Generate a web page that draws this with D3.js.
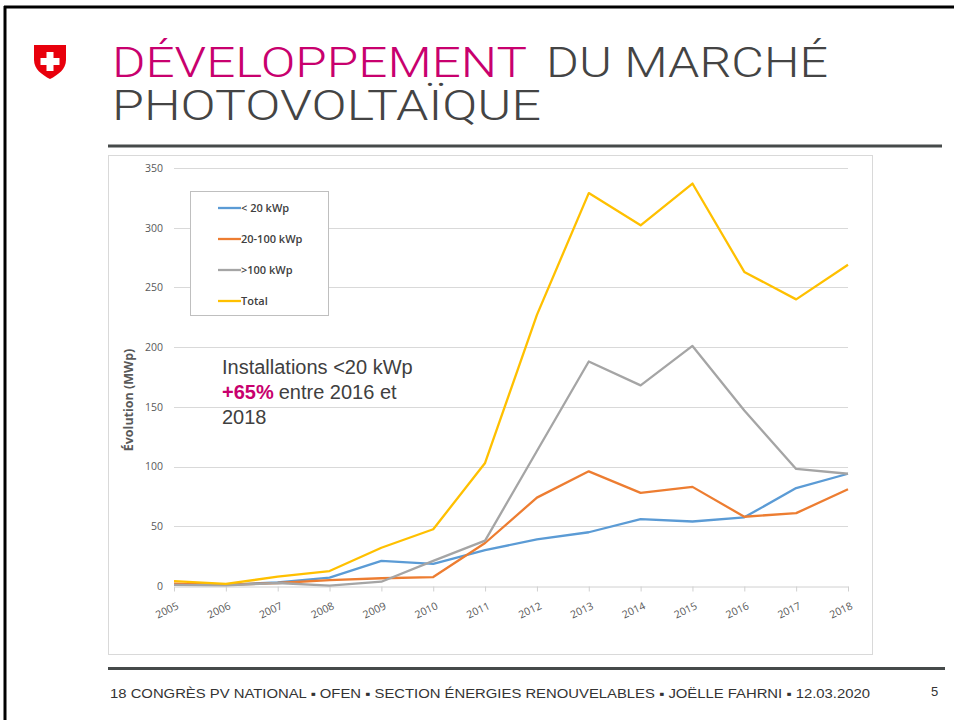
<!DOCTYPE html>
<html>
<head>
<meta charset="utf-8">
<script src="https://cdn.jsdelivr.net/npm/d3@7"></script>
<style>
  body { margin: 0; background: #fff; }
  svg { display: block; }
</style>
</head>
<body>
<svg id="slide" width="954" height="720"></svg>
<script>
// values
var years = ["2005","2006","2007","2008","2009","2010","2011","2012","2013","2014","2015","2016","2017","2018"];
var small = [1.5, 1, 3, 7, 21, 18.5, 30, 39, 45, 56, 54, 57.5, 82, 94];      // < 20 kWp
var medium = [2, 1, 2.5, 5, 6.5, 7.5, 36, 74, 96, 78, 83, 58, 61, 81];        // 20-100 kWp
var large = [1, 0.5, 2.5, 0.3, 3.6, 21, 38, 113, 188, 168, 201, 147, 98, 94]; // >100 kWp
var total = [4, 1.7, 7.8, 12.5, 32, 47.5, 103, 227, 329, 302, 337, 263, 240, 269];
var seriesNames = ["< 20 kWp", "20-100 kWp", ">100 kWp", "Total"];
var seriesColors = ["#5B9BD5", "#ED7D31", "#A5A5A5", "#FFC000"];
var yTicks = [0, 50, 100, 150, 200, 250, 300, 350];

var svg = d3.select("#slide");
var pink = "#C8006E";
var dark = "#444";

// page frame (black edge top + left)
svg.append("line").attr("x1", 4).attr("x2", 954).attr("y1", 7).attr("y2", 7)
  .attr("stroke", "#000").attr("stroke-width", 3);
svg.append("line").attr("x1", 5).attr("x2", 5).attr("y1", 6).attr("y2", 720)
  .attr("stroke", "#000").attr("stroke-width", 3);

// swiss shield
var logo = svg.append("g").attr("transform", "translate(34,45)");
logo.append("path")
  .attr("d", "M0,0 L32,0 L32,15 C32,24 24,30 16,34 C8,30 0,24 0,15 Z")
  .attr("fill", "#E8000C");
logo.append("rect").attr("x", 12.5).attr("y", 7).attr("width", 7).attr("height", 19).attr("fill", "#fff");
logo.append("rect").attr("x", 6.5).attr("y", 13).attr("width", 19).attr("height", 7).attr("fill", "#fff");

// title (one text, three runs)
var title = svg.append("text")
  .attr("font-family", "Roboto, 'Liberation Sans', sans-serif")
  .attr("font-size", 38).attr("font-weight", 300)
  .attr("transform", "translate(0,77) scale(1,1.1) translate(0,-77)");
title.append("tspan").attr("x", 112).attr("y", 77).attr("fill", pink)
  .attr("textLength", 415).attr("lengthAdjust", "spacingAndGlyphs").text("DÉVELOPPEMENT");
title.append("tspan").attr("x", 546).attr("y", 77).attr("fill", dark)
  .attr("textLength", 282).attr("lengthAdjust", "spacingAndGlyphs").text("DU MARCHÉ");
title.append("tspan").attr("x", 112).attr("y", 116).attr("fill", dark)
  .attr("textLength", 429).attr("lengthAdjust", "spacingAndGlyphs").text("PHOTOVOLTAÏQUE");

// header / footer rules
svg.append("line").attr("x1", 108).attr("x2", 942).attr("y1", 146).attr("y2", 146)
  .attr("stroke", "#464a4a").attr("stroke-width", 3);
svg.append("line").attr("x1", 108).attr("x2", 945).attr("y1", 668.5).attr("y2", 668.5)
  .attr("stroke", "#464a4a").attr("stroke-width", 3);

// footer
svg.append("text").attr("x", 110).attr("y", 698)
  .attr("font-family", "'Liberation Sans', Arial, sans-serif").attr("font-size", 12.5)
  .attr("fill", "#333").attr("textLength", 760).attr("lengthAdjust", "spacingAndGlyphs")
  .text("18 CONGRÈS PV NATIONAL ▪ OFEN ▪ SECTION ÉNERGIES RENOUVELABLES ▪  JOËLLE FAHRNI ▪  12.03.2020");
svg.append("text").attr("x", 931).attr("y", 696)
  .attr("font-family", "'Liberation Sans', Arial, sans-serif").attr("font-size", 13)
  .attr("fill", "#333").text("5");

// chart frame
svg.append("rect").attr("x", 108.5).attr("y", 155.5).attr("width", 764).attr("height", 499)
  .attr("fill", "#fff").attr("stroke", "#d9d9d9");

var x = d3.scalePoint().domain(years).range([174, 848]);
var y = d3.scaleLinear().domain([0, 350]).range([586, 168]);
var cfont = "'Open Sans', 'Noto Sans', sans-serif";

// gridlines
svg.append("g").selectAll("line").data(yTicks.filter(function (d) { return d > 0; }))
  .enter().append("line")
  .attr("x1", 174).attr("x2", 848)
  .attr("y1", function (d) { return Math.round(y(d)) + 0.5; })
  .attr("y2", function (d) { return Math.round(y(d)) + 0.5; })
  .attr("stroke", "#d9d9d9");

// y axis labels
var yAxis = svg.append("g").attr("transform", "translate(174,0)")
  .call(d3.axisLeft(y).tickValues(yTicks).tickSize(0).tickPadding(11));
yAxis.select(".domain").remove();
yAxis.selectAll("text").attr("font-family", cfont).attr("font-size", 10.5).attr("fill", "#595959");

// x axis
var xAxis = svg.append("g").attr("transform", "translate(0,586.5)")
  .call(d3.axisBottom(x).tickSizeInner(5).tickSizeOuter(0));
xAxis.select(".domain").attr("stroke", "#d0d0d0");
xAxis.selectAll(".tick line").attr("stroke", "#d0d0d0");
xAxis.selectAll("text")
  .attr("font-family", cfont).attr("font-size", 10.5).attr("fill", "#595959")
  .attr("text-anchor", "end").attr("dy", 0).attr("y", 0)
  .attr("transform", "translate(5,22) rotate(-25)");

// y title
svg.append("text")
  .attr("transform", "translate(133,400) rotate(-90)")
  .attr("text-anchor", "middle")
  .attr("font-family", cfont).attr("font-size", 12.5).attr("font-weight", 700)
  .attr("fill", "#595959").text("Évolution (MWp)");

// series
var series = [small, medium, large, total];
var line = d3.line()
  .x(function (d, i) { return x(years[i]); })
  .y(function (d) { return y(d); });
svg.append("g").selectAll("path").data(series).enter().append("path")
  .attr("d", line)
  .attr("fill", "none")
  .attr("stroke", function (d, i) { return seriesColors[i]; })
  .attr("stroke-width", 2.3)
  .attr("stroke-linejoin", "round");

// legend
var leg = svg.append("g");
leg.append("rect").attr("x", 190.5).attr("y", 191.5).attr("width", 138).attr("height", 124)
  .attr("fill", "#fff").attr("stroke", "#bfbfbf");
var items = leg.selectAll("g").data(seriesNames).enter().append("g")
  .attr("transform", function (d, i) { return "translate(218," + (208 + i * 31) + ")"; });
items.append("line").attr("x1", 0).attr("x2", 23)
  .attr("stroke", function (d, i) { return seriesColors[i]; }).attr("stroke-width", 2.3);
items.append("text").attr("x", 23).attr("dy", "0.35em")
  .attr("font-family", cfont).attr("font-size", 11).attr("font-weight", 600)
  .attr("fill", "#404040").text(function (d) { return d; });

// annotation
var note = svg.append("text").attr("font-family", "'Liberation Sans', Arial, sans-serif")
  .attr("font-size", 20).attr("fill", "#404040");
note.append("tspan").attr("x", 222).attr("y", 374).text("Installations <20 kWp");
note.append("tspan").attr("x", 222).attr("y", 399).attr("fill", pink).attr("font-weight", 700).text("+65%");
note.append("tspan").attr("dx", 5).text("entre 2016 et");
note.append("tspan").attr("x", 222).attr("y", 424).text("2018");
</script>
</body>
</html>
